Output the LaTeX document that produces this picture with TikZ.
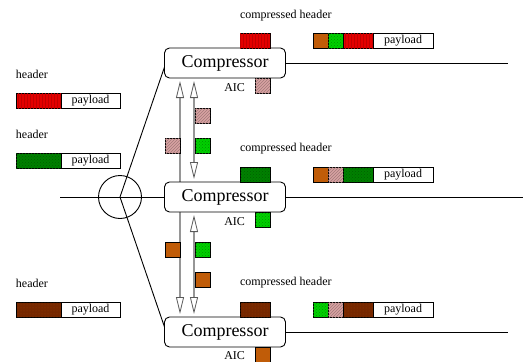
\documentclass[tikz,border=0pt]{standalone}
\usepackage{fontspec}
\setmainfont{Liberation Serif}
\usetikzlibrary{positioning,arrows.meta,backgrounds,patterns}

\definecolor{hdrred}{RGB}{228,0,0}
\definecolor{hdrgreen}{RGB}{0,128,0}
\definecolor{hdrbrown}{RGB}{118,40,0}
\definecolor{aicorange}{RGB}{192,92,8}
\definecolor{aicgreen}{RGB}{0,208,0}
\definecolor{aicpink}{RGB}{216,162,162}
\definecolor{linkgray}{RGB}{150,150,150}

\begin{document}
\begin{tikzpicture}
  [x=1pt, y=-1pt, node distance=0pt,
   every node/.style={font=\fontsize{12}{14}\selectfont, inner sep=0pt, outer sep=0pt},
   comp/.style={draw, line width=0.9pt, fill=white, rounded corners=5pt,
                minimum width=121pt, minimum height=30pt, font=\fontsize{18}{20}\selectfont},
   cell/.style={draw, line width=0.7pt, minimum width=15pt, minimum height=15pt},
   wide/.style={cell, minimum width=30pt},
   hdr/.style={cell, minimum width=45pt},
   pay/.style={draw, line width=0.7pt, minimum width=59pt, minimum height=15pt},
   redpat/.style={fill=hdrred, postaction={pattern=vertical lines, pattern color=hdrred!85!black}},
   greenpat/.style={fill=hdrgreen, postaction={pattern=crosshatch dots, pattern color=hdrgreen!75!black}},
   brownpat/.style={fill=hdrbrown, postaction={pattern=dots, pattern color=hdrbrown!60!aicorange}},
   orangepat/.style={fill=aicorange},
   limepat/.style={fill=aicgreen, postaction={pattern=crosshatch dots, pattern color=aicgreen!70!black}},
   pinkpat/.style={fill=aicpink, postaction={pattern=north east lines, pattern color=aicpink!75!black}},
   link/.style={draw=linkgray, line width=1.2pt, shorten <=3pt, shorten >=3pt,
                {Triangle[open, length=17pt, width=8pt, color=black!65, line width=0.8pt]}-{Triangle[open, length=17pt, width=8pt, color=black!65, line width=0.8pt]}}]
  \useasboundingbox (0,0) rectangle (523,362);

  % compressors
  \node[comp] (comp1) at (225,63) {Compressor};
  \node[comp] (comp2) at (225,197) {Compressor};
  \node[comp] (comp3) at (225,332) {Compressor};

  % links
  \node[draw, line width=0.9pt, circle, minimum size=43pt] (hub) at (120,197) {};
  \coordinate (in2) at (60,197);
  \coordinate (out1) at (508,63);
  \coordinate (out2) at (523,197);
  \coordinate (out3) at (508,332);
  \draw[line width=0.9pt] (in2) -- (comp2.west);
  \draw[line width=0.9pt] (comp1.east) -- (out1);
  \draw[line width=0.9pt] (comp2.east) -- (out2);
  \draw[line width=0.9pt] (comp3.east) -- (out3);
  \draw[line width=0.9pt] ([yshift=-4pt]comp1.west) -- (hub.center) -- ([yshift=5pt]comp3.west);

  % feedback between compressors
  \begin{scope}[on background layer]
    \draw[link] ([xshift=-45pt]comp1.south) -- ([xshift=-45pt]comp3.north);
    \draw[link] ([xshift=-31pt]comp1.south) -- ([xshift=-31pt]comp2.north);
    \draw[link] ([xshift=-31pt]comp2.south) -- ([xshift=-31pt]comp3.north);
  \end{scope}
  \node[cell, pinkpat, anchor=north west] (m1) at (195,108) {};
  \node[cell, pinkpat, anchor=north west] (m2) at (165,138) {};
  \node[cell, limepat, anchor=north west] (m3) at (195,138) {};
  \node[cell, orangepat, anchor=north west] (m4) at (165,242) {};
  \node[cell, limepat, anchor=north west] (m5) at (195,242) {};
  \node[cell, orangepat, anchor=north west] (m6) at (195,272) {};

  % incoming packets
  \node[anchor=west] (h1) at (16,74) {header};
  \node[hdr, redpat, anchor=north west] (p1h) at (16,93) {};
  \node[pay, right=of p1h] (p1p) {payload};
  \node[anchor=west] (h2) at (16,134) {header};
  \node[hdr, greenpat, anchor=north west] (p2h) at (16,153) {};
  \node[pay, right=of p2h] (p2p) {payload};
  \node[anchor=west] (h3) at (16,283) {header};
  \node[hdr, brownpat, anchor=north west] (p3h) at (16,302) {};
  \node[pay, right=of p3h] (p3p) {payload};

  % compressed headers and AIC
  \node[anchor=west] (c1) at (240,16) {compressed header};
  \node[wide, redpat, anchor=north west] (k1) at (240,33) {};
  \node[cell, pinkpat, anchor=north west] (a1) at (255,78) {};
  \node[anchor=east] (t1) at (245,88) {AIC};
  \node[anchor=west] (c2) at (240,149) {compressed header};
  \node[wide, greenpat, anchor=north west] (k2) at (240,167) {};
  \node[cell, limepat, anchor=north west] (a2) at (255,212) {};
  \node[anchor=east] (t2) at (245,222) {AIC};
  \node[anchor=west] (c3) at (240,283) {compressed header};
  \node[wide, brownpat, anchor=north west] (k3) at (240,302) {};
  \node[cell, orangepat, anchor=north west] (a3) at (255,347) {};
  \node[anchor=east] (t3) at (245,356) {AIC};

  % outgoing packets
  \node[cell, orangepat, anchor=north west] (q1a) at (313,33) {};
  \node[cell, limepat, right=of q1a] (q1b) {};
  \node[wide, redpat, right=of q1b] (q1c) {};
  \node[pay, minimum width=60pt, right=of q1c] (q1d) {payload};
  \node[cell, orangepat, anchor=north west] (q2a) at (313,167) {};
  \node[cell, pinkpat, right=of q2a] (q2b) {};
  \node[wide, greenpat, right=of q2b] (q2c) {};
  \node[pay, minimum width=60pt, right=of q2c] (q2d) {payload};
  \node[cell, limepat, anchor=north west] (q3a) at (313,302) {};
  \node[cell, pinkpat, right=of q3a] (q3b) {};
  \node[wide, brownpat, right=of q3b] (q3c) {};
  \node[pay, minimum width=60pt, right=of q3c] (q3d) {payload};
\end{tikzpicture}
\end{document}
